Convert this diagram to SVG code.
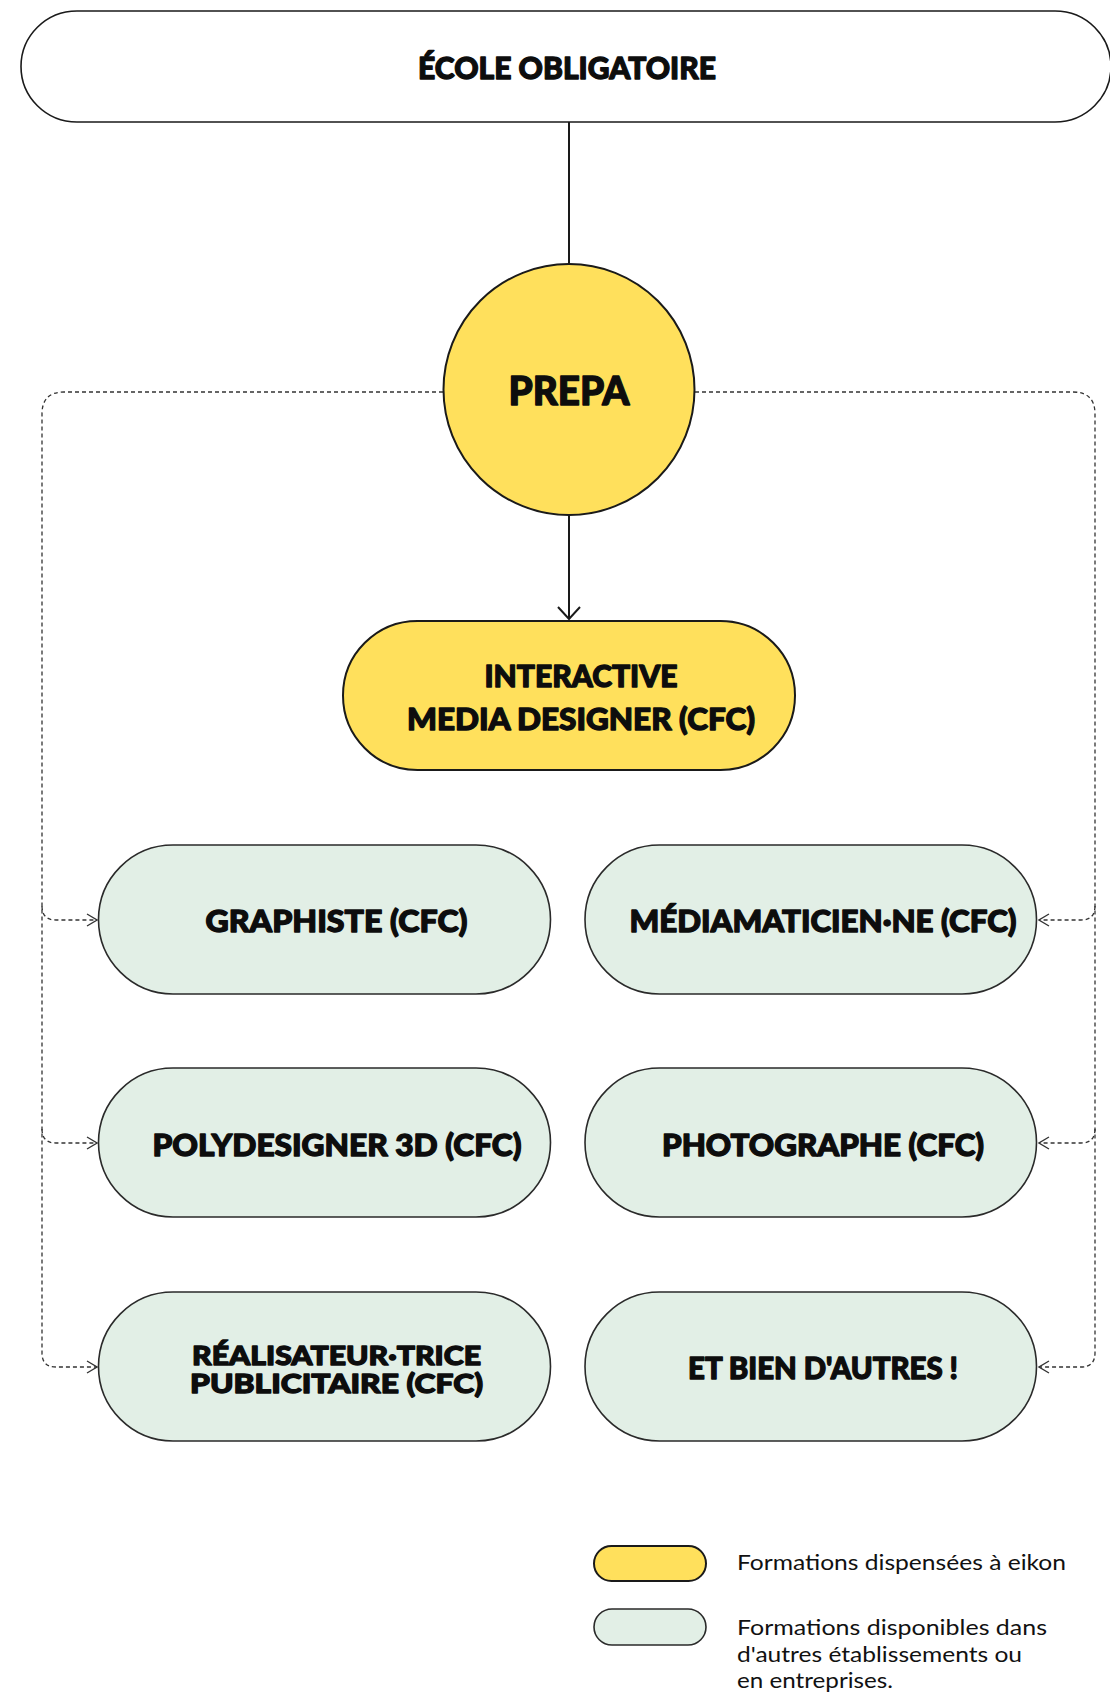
<svg xmlns="http://www.w3.org/2000/svg" width="1110" height="1697" viewBox="0 0 1110 1697">
<defs>
<style>
.h{font-family:Lato,Roboto,"Liberation Sans",sans-serif;font-weight:900;fill:#0d0d0d;stroke:#0d0d0d;stroke-width:1.3;stroke-linejoin:round;text-anchor:middle}
.y{fill:#FFE05C;stroke:#1a1a1a;stroke-width:2}
.g{fill:#E2EFE6;stroke:#2a2a2a;stroke-width:1.6}
.d{fill:none;stroke:#333;stroke-width:1.3;stroke-dasharray:4 3}
.s{fill:none;stroke:#1a1a1a;stroke-width:2}
.l{font-family:Lato,"Open Sans","Liberation Sans",sans-serif;font-size:22px;fill:#111}
</style>
<marker id="oa" viewBox="0 0 12 14" refX="11" refY="7" markerWidth="12" markerHeight="14" markerUnits="userSpaceOnUse" orient="auto">
<path d="M1,1 L11,7 L1,13" fill="none" stroke="#333" stroke-width="1.3"/>
</marker>
<marker id="sa" viewBox="0 0 14 24" refX="13" refY="12" markerWidth="14" markerHeight="24" markerUnits="userSpaceOnUse" orient="auto">
<path d="M1,1 L13,12 L1,23" fill="none" stroke="#1a1a1a" stroke-width="2"/>
</marker>
</defs>
<rect width="1110" height="1697" fill="#fff"/>
<g id="connectors">
<line class="s" x1="569" y1="122" x2="569" y2="264"/>
<line class="s" x1="569" y1="515" x2="569" y2="619" marker-end="url(#sa)"/>
<path class="d" d="M443,392 H64 Q42,392 42,414 V1353 Q42,1367 56,1367 H97" marker-end="url(#oa)"/>
<path class="d" d="M42,906 Q42,920 56,920 H97" marker-end="url(#oa)"/>
<path class="d" d="M42,1129 Q42,1143 56,1143 H97" marker-end="url(#oa)"/>
<path class="d" d="M695,392 H1073 Q1095,392 1095,414 V1353 Q1095,1367 1081,1367 H1039" marker-end="url(#oa)"/>
<path class="d" d="M1095,906 Q1095,920 1081,920 H1039" marker-end="url(#oa)"/>
<path class="d" d="M1095,1129 Q1095,1143 1081,1143 H1039" marker-end="url(#oa)"/>
</g>
<g id="ecole">
<rect x="21" y="11" width="1090" height="111" rx="56" fill="#fff" stroke="#1a1a1a" stroke-width="1.6"/>
<text class="h" x="567" y="79" font-size="31" textLength="298" lengthAdjust="spacingAndGlyphs">ÉCOLE OBLIGATOIRE</text>
</g>
<g id="prepa">
<circle class="y" cx="569" cy="389.5" r="125.5"/>
<text class="h" x="569" y="405" font-size="39" textLength="121" lengthAdjust="spacingAndGlyphs">PREPA</text>
</g>
<g id="imd">
<rect class="y" x="343" y="621" width="452" height="149" rx="74.5"/>
<text class="h" x="581" y="687" font-size="30" textLength="193" lengthAdjust="spacingAndGlyphs">INTERACTIVE</text>
<text class="h" x="581" y="730" font-size="30" textLength="348" lengthAdjust="spacingAndGlyphs">MEDIA DESIGNER (CFC)</text>
</g>
<g id="graphiste">
<rect class="g" x="98.5" y="845" width="452" height="149" rx="74.5"/>
<text class="h" x="336.5" y="932" font-size="30" textLength="262" lengthAdjust="spacingAndGlyphs">GRAPHISTE (CFC)</text>
</g>
<g id="mediamaticien">
<rect class="g" x="585" y="845" width="451.5" height="149" rx="74.5"/>
<text class="h" x="823" y="932" font-size="30" textLength="387" lengthAdjust="spacingAndGlyphs">MÉDIAMATICIEN·NE (CFC)</text>
</g>
<g id="polydesigner">
<rect class="g" x="98.5" y="1068" width="452" height="149" rx="74.5"/>
<text class="h" x="337" y="1155.5" font-size="30" textLength="369" lengthAdjust="spacingAndGlyphs">POLYDESIGNER 3D (CFC)</text>
</g>
<g id="photographe">
<rect class="g" x="585" y="1068" width="451.5" height="149" rx="74.5"/>
<text class="h" x="823" y="1155.5" font-size="30" textLength="322" lengthAdjust="spacingAndGlyphs">PHOTOGRAPHE (CFC)</text>
</g>
<g id="realisateur">
<rect class="g" x="98.5" y="1292" width="452" height="149" rx="74.5"/>
<text class="h" x="336.5" y="1364.5" font-size="27" textLength="289" lengthAdjust="spacingAndGlyphs">RÉALISATEUR·TRICE</text>
<text class="h" x="336.5" y="1392.5" font-size="27" textLength="293" lengthAdjust="spacingAndGlyphs">PUBLICITAIRE (CFC)</text>
</g>
<g id="autres">
<rect class="g" x="585" y="1292" width="451.5" height="149" rx="74.5"/>
<text class="h" x="823" y="1378.5" font-size="30" textLength="270" lengthAdjust="spacingAndGlyphs">ET BIEN D'AUTRES !</text>
</g>
<g id="legend">
<rect class="y" x="594" y="1546" width="112" height="35" rx="17.5" stroke-width="1.6"/>
<text class="l" x="737" y="1570" textLength="329" lengthAdjust="spacingAndGlyphs">Formations dispensées à eikon</text>
<rect class="g" x="594" y="1609" width="112" height="36" rx="18"/>
<text class="l" x="737" y="1635" textLength="310" lengthAdjust="spacingAndGlyphs">Formations disponibles dans</text>
<text class="l" x="737" y="1662" textLength="285" lengthAdjust="spacingAndGlyphs">d'autres établissements ou</text>
<text class="l" x="737" y="1688" textLength="156" lengthAdjust="spacingAndGlyphs">en entreprises.</text>
</g>
</svg>
